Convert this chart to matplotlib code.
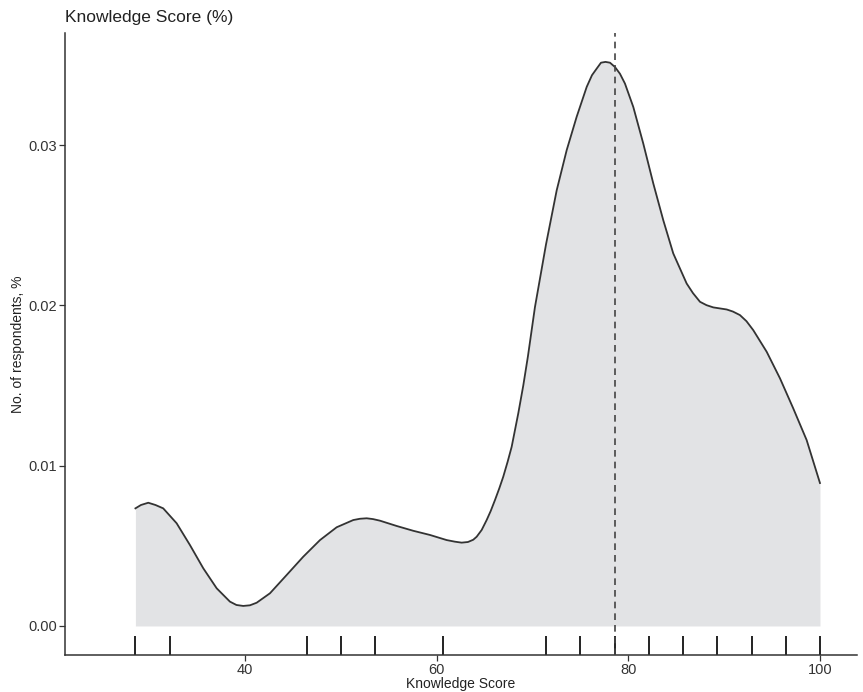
import matplotlib
matplotlib.use("Agg")
import matplotlib.pyplot as plt
import matplotlib.transforms as mtransforms

plt.rcParams["font.family"] = ["Liberation Sans", "DejaVu Sans"]

# density curve of knowledge score (x = score, y = density)
score = [28.57, 29.15, 29.91, 30.66, 31.47, 32.87, 34.26, 35.65, 37.05, 38.43,
         39.11, 39.82, 40.52, 41.22, 42.61, 44.35, 46.08, 47.83, 49.57, 51.30,
         52.00, 52.70, 53.36, 54.09, 55.83, 57.56, 59.30, 61.05, 61.91, 62.61,
         63.27, 63.82, 64.18, 64.70, 65.22, 65.64, 66.09, 66.54, 66.95, 67.41,
         67.83, 68.52, 69.04, 69.52, 70.26, 71.41, 72.53, 73.57, 74.61, 75.66,
         76.21, 76.70, 77.15, 77.62, 78.09, 78.61, 79.13, 79.65, 80.52, 81.56,
         82.61, 83.65, 84.69, 86.09, 86.75, 87.48, 88.16, 88.87, 90.27, 90.92,
         91.65, 92.33, 93.04, 94.44, 95.83, 97.21, 98.61, 100.0]
density = [0.00734, 0.00755, 0.00769, 0.00755, 0.00734, 0.00641, 0.00505,
           0.00360, 0.00235, 0.00152, 0.00131, 0.00125, 0.00129, 0.00145,
           0.00204, 0.00318, 0.00432, 0.00536, 0.00616, 0.00661, 0.00669,
           0.00672, 0.00667, 0.00657, 0.00624, 0.00594, 0.00568, 0.00536,
           0.00526, 0.00520, 0.00524, 0.00538, 0.00557, 0.00599, 0.00661,
           0.00717, 0.00786, 0.00859, 0.00931, 0.01025, 0.01118, 0.01327,
           0.01500, 0.01680, 0.01990, 0.02380, 0.02719, 0.02969, 0.03177,
           0.03364, 0.03437, 0.03478, 0.03515, 0.03520, 0.03515, 0.03488,
           0.03446, 0.03385, 0.03239, 0.03011, 0.02761, 0.02532, 0.02325,
           0.02137, 0.02077, 0.02023, 0.02002, 0.01988, 0.01975, 0.01962,
           0.01940, 0.01902, 0.01846, 0.01711, 0.01545, 0.01358, 0.01160,
           0.00892]

# observed scores (out of 28) shown as a rug
rug_scores = [28.57, 32.14, 46.43, 50.00, 53.57, 60.71, 71.43, 75.00, 78.57,
              82.14, 85.71, 89.29, 92.86, 96.43, 100.0]
median_score = 78.57

fig = plt.figure(figsize=(8.63, 6.92), dpi=100)
ax = fig.add_axes([0.0753, 0.0535, 0.9177, 0.8985])

ax.fill_between(score, density, 0, color="#e2e3e5", lw=0, zorder=1)
ax.plot(score, density, color="#333333", lw=1.3, zorder=3,
        solid_joinstyle="round")
ax.axvline(median_score, color="#444444", lw=1.2, ls=(0, (4, 3)), zorder=4)

trans = mtransforms.blended_transform_factory(ax.transData, ax.transAxes)
ax.vlines(rug_scores, 0, 0.03, transform=trans, color="#222222", lw=1.4,
          zorder=2)

ax.set_xlim(21.22, 103.86)
ax.set_ylim(-0.00181, 0.03699)
ax.set_xticks([40, 60, 80, 100])
ax.set_yticks([0.00, 0.01, 0.02, 0.03])
ax.set_yticklabels(["0.00", "0.01", "0.02", "0.03"])

for s in ["top", "right"]:
    ax.spines[s].set_visible(False)
for s in ["left", "bottom"]:
    ax.spines[s].set_linewidth(1.1)
    ax.spines[s].set_color("#333333")
ax.tick_params(length=4, width=0.9, color="#333333", labelsize=10.5,
               labelcolor="#333333", pad=2)

ax.set_xlabel("Knowledge Score", fontsize=10, color="#222222", va="center")
ax.xaxis.set_label_coords(0.5, -0.0466)
ax.set_ylabel("No. of respondents, %", fontsize=10, color="#222222",
              va="center")
ax.yaxis.set_label_coords(-0.0593, 0.5)
ax.set_title("Knowledge Score (%)", loc="left", fontsize=12.5,
             color="#222222", pad=8)

fig.savefig("out.png", dpi=100)
